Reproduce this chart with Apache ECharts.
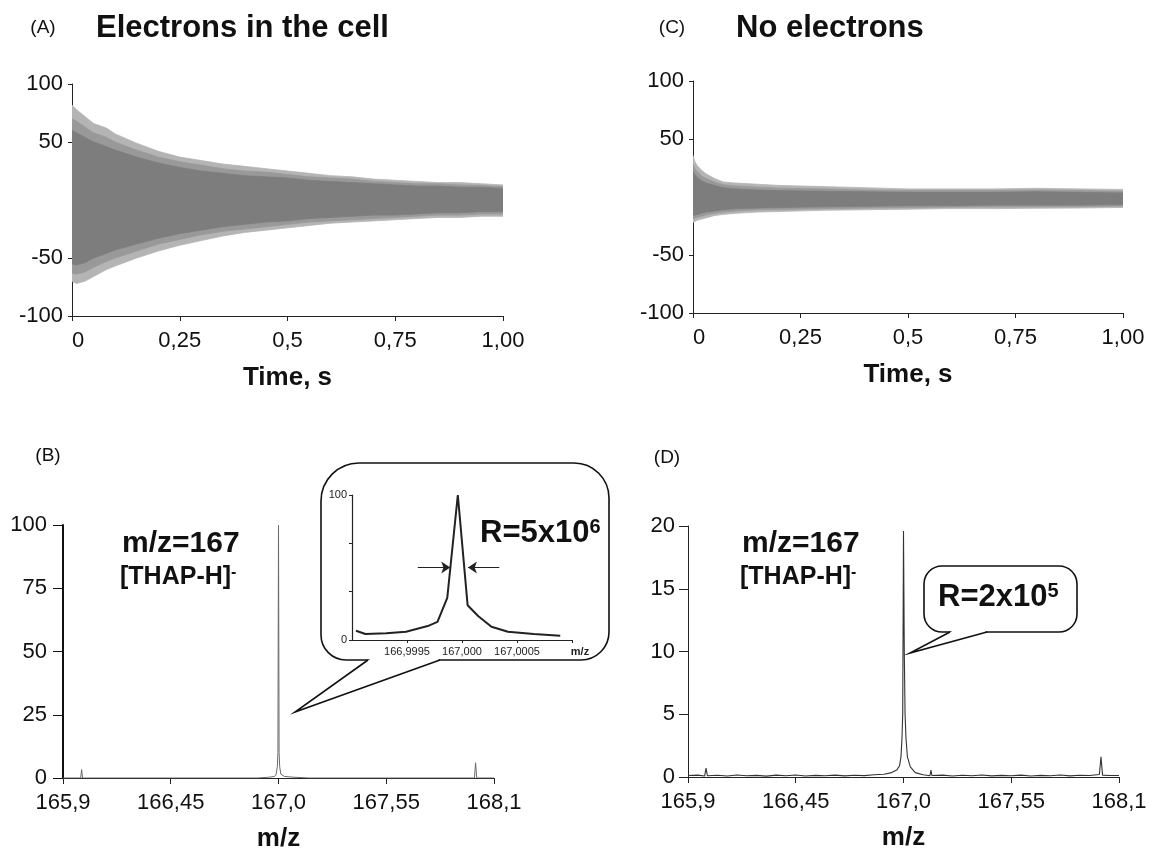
<!DOCTYPE html>
<html>
<head>
<meta charset="utf-8">
<script src="https://cdn.jsdelivr.net/npm/echarts@6/dist/echarts.min.js"></script>
<style>html,body{margin:0;background:#fff}#chart{width:1150px;height:853px}</style>
</head>
<body>
<div id="chart"></div>
<script>
var FF = "'Liberation Sans', Arial, Helvetica, sans-serif";

// (A) transient, electrons in the cell: envelope of the signal
var timeA = [0, 0.01, 0.03, 0.05, 0.08, 0.1, 0.15, 0.2, 0.25, 0.3, 0.35, 0.4, 0.45, 0.5, 0.55, 0.6, 0.65, 0.7, 0.75, 0.8, 0.85, 0.9, 0.95, 1.0];
var outerTopA = [82, 78, 72, 66, 62, 57, 49, 42, 37, 34, 31, 29, 27, 25, 23, 21, 20, 18, 17, 16, 15, 15, 14, 13];
var outerBotA = [-70, -72, -70, -66, -60, -57, -50, -44, -39, -35, -31, -28, -26, -24, -22, -20, -19, -18, -17, -16, -15, -15, -14, -14];
var midTopA = [70, 68, 63, 58, 54, 50, 43, 37, 33, 30, 27, 25, 24, 22, 20, 19, 18, 16, 15, 14, 14, 13, 12.5, 11.5];
var midBotA = [-63, -64, -62, -58, -53, -50, -44, -38, -34, -30, -27, -25, -23, -21, -19, -18, -17, -16, -15, -14, -13, -13, -12, -12];
var innerTopA = [60, 58, 54, 50, 46, 43, 37, 32, 28, 25, 23, 21, 20, 19, 17, 16, 15, 14, 13, 12, 12, 11, 11, 10];
var innerBotA = [-55, -56, -54, -50, -46, -43, -38, -33, -29, -26, -23, -21, -19, -18, -16, -15, -14, -13, -13, -12, -11, -11, -10, -10];

// (C) transient, no electrons
var timeC = [0, 0.005, 0.01, 0.02, 0.03, 0.05, 0.07, 0.1, 0.15, 0.2, 0.3, 0.4, 0.5, 0.6, 0.7, 0.8, 0.9, 1.0];
var outerTopC = [36, 30, 27, 23, 20, 16, 13, 12, 11, 10, 9, 8, 7, 7, 7, 7.5, 7, 6.5];
var outerBotC = [-22, -21, -20, -19, -18, -16, -15, -14, -13, -12.5, -11.5, -11, -10.5, -10, -10, -9.7, -9.5, -9];
var midTopC = [28, 24, 22, 18, 16, 13, 10.5, 9.5, 8.5, 7.5, 7, 6, 5.5, 5.5, 5.5, 6, 5.5, 5];
var midBotC = [-19, -18, -17.5, -16.5, -15.5, -14, -13, -12, -11, -10.7, -10, -9.5, -9, -8.7, -8.5, -8.4, -8.2, -7.8];
var innerTopC = [22, 19, 17, 14, 12, 10, 8, 7, 6, 5.5, 5, 4.5, 4, 4, 4, 4.5, 4, 3.5];
var innerBotC = [-16, -15.5, -15, -14, -13, -12, -11, -10, -9.5, -9, -8.5, -8, -7.5, -7.5, -7, -7, -7, -6.5];

// (B) spectrum, electrons in the cell
var mzB  = [165.9, 165.99, 165.995, 166.0, 166.89, 166.95, 166.98, 166.988, 166.994, 166.997, 167.0, 167.003, 167.006, 167.012, 167.03, 167.08, 167.16, 168.0, 168.006, 168.012, 168.1];
var intB = [0, 0, 3.3, 0, 0, 0.3, 0.6, 1.5, 4.5, 10, 100, 10, 4.5, 1.5, 0.6, 0.3, 0, 0, 6, 0, 0];

// (D) spectrum, no electrons
var mzD  = [165.9, 165.95, 165.985, 165.992, 165.999, 166.05, 166.1, 166.15, 166.2, 166.25, 166.3, 166.35, 166.4, 166.45, 166.5, 166.55, 166.6, 166.65, 166.7, 166.75, 166.8, 166.85, 166.9, 166.94, 166.965, 166.98, 166.987, 166.992, 166.996, 167.0, 167.004, 167.008, 167.013, 167.02, 167.035, 167.06, 167.1, 167.135, 167.14, 167.145, 167.2, 167.25, 167.3, 167.35, 167.4, 167.45, 167.5, 167.55, 167.6, 167.65, 167.7, 167.75, 167.8, 167.85, 167.9, 167.95, 168.0, 168.008, 168.016, 168.05, 168.1];
var intD = [0.12, 0.15, 0.08, 0.7, 0.1, 0.14, 0.08, 0.16, 0.1, 0.13, 0.07, 0.15, 0.1, 0.16, 0.08, 0.13, 0.1, 0.15, 0.09, 0.14, 0.11, 0.18, 0.22, 0.35, 0.55, 0.9, 1.6, 3, 5, 19.6, 10, 5, 3, 1.6, 0.8, 0.35, 0.18, 0.1, 0.55, 0.12, 0.15, 0.08, 0.14, 0.1, 0.16, 0.09, 0.13, 0.1, 0.15, 0.08, 0.13, 0.1, 0.16, 0.09, 0.14, 0.12, 0.2, 1.6, 0.15, 0.12, 0.12];

// inset of (B): zoom on the 167 peak
var mzInset  = [166.999036, 166.999122, 166.999312, 166.999491, 166.999688, 166.999777, 166.999866, 166.999962, 167.000051, 167.000149, 167.000268, 167.000417, 167.000652, 167.000893];
var intInset = [6.4, 4.1, 4.6, 5.7, 9.6, 12.5, 29, 100, 24, 16.4, 9.1, 5.7, 4.1, 3];
var fwhmY = 50;
var arrowLeft  = [166.999598, 166.999893];
var arrowRight = [167.000339, 167.000054];

// tick labels
var timeTicks = [0, 0.25, 0.5, 0.75, 1];
var timeLabels = ['0', '0,25', '0,5', '0,75', '1,00'];
var ampTicks = [-100, -50, 50, 100];
var mzTicks = [165.9, 166.45, 167.0, 167.55, 168.1];
var mzLabels = ['165,9', '166,45', '167,0', '167,55', '168,1'];
var insetTicks = [166.9995, 167.0, 167.0005, 167.001];
var insetLabels = ['166,9995', '167,000', '167,0005', '{m|m/z}'];

function fmt(ticks, labels) {
  return function (v) {
    for (var i = 0; i < ticks.length; i++) if (Math.abs(v - ticks[i]) < 1e-7) return labels[i];
    return '';
  };
}
function zip(a, b) { return a.map(function (x, i) { return [x, b[i]]; }); }

function band(g, t, vals, color, z) {
  return {
    type: 'line', xAxisIndex: g, yAxisIndex: g, data: zip(t, vals), symbol: 'none',
    lineStyle: { width: 0.8, color: color }, areaStyle: { color: color, opacity: 1, origin: 'auto' },
    z: z, silent: true
  };
}

function timeAxis(g) {
  return {
    type: 'value', gridIndex: g, min: 0, max: 1,
    axisLine: { show: true, onZero: false, lineStyle: { color: '#222', width: 1 } },
    axisTick: { show: true, customValues: timeTicks, length: 5, lineStyle: { color: '#222' } },
    axisLabel: { customValues: timeTicks, formatter: fmt(timeTicks, timeLabels), fontSize: 22, color: '#111', margin: 14, alignMinLabel: 'left' },
    splitLine: { show: false },
    name: 'Time, s', nameLocation: 'middle', nameGap: 49,
    nameTextStyle: { fontSize: 26, fontWeight: 'bold', color: '#111' }
  };
}
function ampAxis(g) {
  return {
    type: 'value', gridIndex: g, min: -100, max: 100,
    axisLine: { show: true, onZero: false, lineStyle: { color: '#222', width: 1 } },
    axisTick: { show: true, customValues: ampTicks, length: 4, lineStyle: { color: '#222' } },
    axisLabel: { customValues: ampTicks, fontSize: 22, color: '#111', margin: 9 },
    splitLine: { show: false }
  };
}
function mzAxis(g) {
  return {
    type: 'value', gridIndex: g, min: 165.9, max: 168.1,
    axisLine: { show: true, onZero: false, lineStyle: { color: '#222', width: 1 } },
    axisTick: { show: true, customValues: mzTicks, length: 6, lineStyle: { color: '#222' } },
    axisLabel: { customValues: mzTicks, formatter: fmt(mzTicks, mzLabels), fontSize: 22, color: '#111', margin: 14 },
    splitLine: { show: false },
    name: 'm/z', nameLocation: 'middle', nameGap: 48,
    nameTextStyle: { fontSize: 26, fontWeight: 'bold', color: '#111' }
  };
}

function txt(x, y, text, size, bold, align, z) {
  return {
    type: 'text', x: x, y: y, z: z || 10,
    style: { text: text, font: (bold ? 'bold ' : '') + size + 'px ' + FF, fill: '#111',
      align: align || 'left', verticalAlign: 'middle', textAlign: align || 'left', textVerticalAlign: 'middle' }
  };
}
function supTxt(x, y, base, sup, size, supSize) {
  return {
    type: 'text', x: x, y: y, z: 10,
    style: {
      text: '{b|' + base + '}{s|' + sup + '}', fill: '#111', align: 'left', verticalAlign: 'middle',
      rich: {
        b: { fontSize: size, fontWeight: 'bold', fontFamily: FF, fill: '#111', verticalAlign: 'bottom' },
        s: { fontSize: supSize, fontWeight: 'bold', fontFamily: FF, fill: '#111', verticalAlign: 'top' }
      }
    }
  };
}
function callout(rect, r, base, tip) {
  var pts = [[base[0], base[2]], tip, [base[1], base[2]]];
  return [
    { type: 'rect', z: 1, shape: { x: rect[0], y: rect[1], width: rect[2], height: rect[3], r: r },
      style: { fill: '#fff', stroke: '#111', lineWidth: 1.6 } },
    { type: 'polygon', z: 1, shape: { points: pts }, style: { fill: '#fff', stroke: null } },
    { type: 'line', z: 1, shape: { x1: base[0] + 1.5, y1: base[2], x2: base[1] - 1.5, y2: base[2] },
      style: { stroke: '#fff', lineWidth: 3 } },
    { type: 'polyline', z: 1, shape: { points: pts }, style: { fill: null, stroke: '#111', lineWidth: 1.6 } }
  ];
}

var graphics = [].concat(
  callout([321, 463, 288, 197], [38, 35, 28, 25], [368, 440, 660], [295, 712]),
  callout([924, 566, 153, 66], 18, [950, 987, 632], [910, 653]),
  [
    txt(43, 28, '(A)', 19, false, 'center'),
    txt(96, 28, 'Electrons in the cell', 31, true),
    txt(672, 28, '(C)', 19, false, 'center'),
    txt(736, 28, 'No electrons', 31, true),
    txt(48, 456, '(B)', 19, false, 'center'),
    txt(667, 458, '(D)', 19, false, 'center'),
    txt(122, 544, 'm/z=167', 30, true),
    supTxt(120, 577, '[THAP-H]', '-', 25, 16),
    txt(742, 544, 'm/z=167', 30, true),
    supTxt(740, 577, '[THAP-H]', '-', 25, 16),
    supTxt(480, 533, 'R=5x10', '6', 31, 20),
    supTxt(938, 597, 'R=2x10', '5', 31, 20)
  ]
);

var chart = echarts.init(document.getElementById('chart'));
chart.setOption({
  animation: false,
  backgroundColor: '#fff',
  textStyle: { fontFamily: FF, color: '#111' },
  grid: [
    { left: 72, top: 84, width: 431, height: 232 },
    { left: 693, top: 81, width: 430, height: 232 },
    { left: 63, top: 525, width: 431, height: 253 },
    { left: 688, top: 526, width: 431, height: 251 },
    { left: 352, top: 495, width: 220, height: 145 }
  ],
  xAxis: [
    timeAxis(0), timeAxis(1), mzAxis(2), mzAxis(3),
    {
      type: 'value', gridIndex: 4, min: 166.999, max: 167.001, z: 5,
      axisLine: { show: true, onZero: false, lineStyle: { color: '#222', width: 1.2 } },
      axisTick: { show: true, customValues: insetTicks, length: 3, lineStyle: { color: '#222' } },
      axisLabel: { customValues: insetTicks, formatter: fmt(insetTicks, insetLabels), fontSize: 11, color: '#222', margin: 6,
        rich: { m: { fontSize: 11, fontWeight: 'bold', color: '#222', padding: [0, 0, 0, 16] } } },
      splitLine: { show: false }
    }
  ],
  yAxis: [
    ampAxis(0), ampAxis(1),
    {
      type: 'value', gridIndex: 2, min: 0, max: 100, interval: 25,
      axisLine: { show: true, onZero: false, lineStyle: { color: '#111', width: 2 } },
      axisTick: { show: true, length: 10, lineStyle: { color: '#111' } },
      axisLabel: { fontSize: 22, color: '#111', margin: 16 },
      splitLine: { show: false }
    },
    {
      type: 'value', gridIndex: 3, min: 0, max: 20, interval: 5,
      axisLine: { show: true, onZero: false, lineStyle: { color: '#222', width: 1 } },
      axisTick: { show: true, length: 9, lineStyle: { color: '#222' } },
      axisLabel: { fontSize: 22, color: '#111', margin: 13 },
      splitLine: { show: false }
    },
    {
      type: 'value', gridIndex: 4, min: 0, max: 100, z: 5,
      axisLine: { show: true, onZero: false, lineStyle: { color: '#222', width: 1.2 } },
      axisTick: { show: true, customValues: [0, 33.33, 66.67, 100], length: 3, lineStyle: { color: '#222' } },
      axisLabel: { customValues: [0, 100], fontSize: 11, color: '#222', margin: 5 },
      splitLine: { show: false }
    }
  ],
  series: [
    band(0, timeA, outerTopA, '#b4b4b4', 2),
    band(0, timeA, outerBotA, '#b4b4b4', 2),
    band(0, timeA, midTopA, '#999999', 3),
    band(0, timeA, midBotA, '#999999', 3),
    band(0, timeA, innerTopA, '#7d7d7d', 4),
    band(0, timeA, innerBotA, '#7d7d7d', 4),
    band(1, timeC, outerTopC, '#b4b4b4', 2),
    band(1, timeC, outerBotC, '#b4b4b4', 2),
    band(1, timeC, midTopC, '#999999', 3),
    band(1, timeC, midBotC, '#999999', 3),
    band(1, timeC, innerTopC, '#7d7d7d', 4),
    band(1, timeC, innerBotC, '#7d7d7d', 4),
    { type: 'line', xAxisIndex: 2, yAxisIndex: 2, data: zip(mzB, intB), symbol: 'none',
      lineStyle: { color: '#6a6a6a', width: 1 }, z: 3 },
    { type: 'line', xAxisIndex: 3, yAxisIndex: 3, data: zip(mzD, intD), symbol: 'none',
      lineStyle: { color: '#333', width: 1.1 }, z: 3 },
    { type: 'line', xAxisIndex: 4, yAxisIndex: 4, data: zip(mzInset, intInset), symbol: 'none',
      lineStyle: { color: '#222', width: 2 }, z: 6,
      markLine: {
        silent: true, symbol: ['none', 'arrow'], symbolSize: 9,
        lineStyle: { color: '#222', width: 1.2, type: 'solid' }, label: { show: false },
        data: [
          [{ coord: [arrowLeft[0], fwhmY] }, { coord: [arrowLeft[1], fwhmY] }],
          [{ coord: [arrowRight[0], fwhmY] }, { coord: [arrowRight[1], fwhmY] }]
        ]
      }
    }
  ],
  graphic: { elements: graphics }
});
</script>
</body>
</html>
